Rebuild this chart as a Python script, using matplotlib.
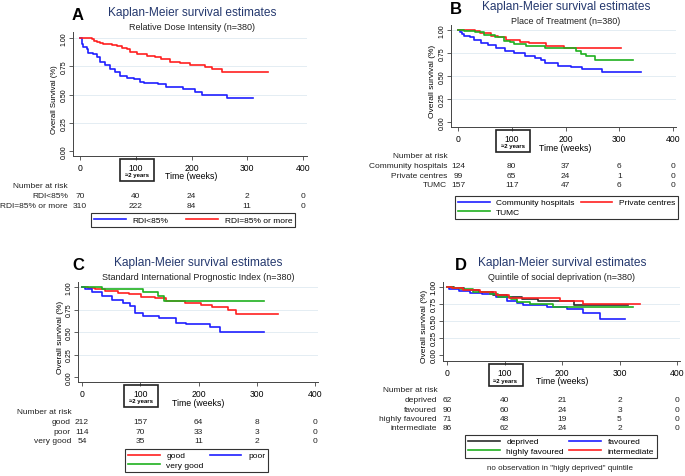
import matplotlib
matplotlib.use("Agg")
import matplotlib.pyplot as plt
from matplotlib.patches import Rectangle
from matplotlib.transforms import blended_transform_factory

plt.rcParams["font.family"] = ["Liberation Sans", "DejaVu Sans"]

W, H = 685, 477  # figure size in pixels

# ---------------- data ----------------
x_ticks = [0, 100, 200, 300, 400]
y_ticks = [0.0, 0.25, 0.5, 0.75, 1.0]
y_tick_labels = ["0.00", "0.25", "0.50", "0.75", "1.00"]

# A - Relative Dose Intensity
a_groups = ["RDI<85%", "RDI=85% or more"]
a_risk = [[70, 40, 24, 2, 0], [310, 222, 84, 11, 0]]
a_low_t = [0, 3, 6, 12, 15, 24, 30, 36, 45, 54, 63, 72, 84, 96, 108, 114, 140, 155, 185, 206, 218, 263, 311]
a_low_s = [1.0, 0.95, 0.92, 0.90, 0.87, 0.86, 0.83, 0.785, 0.76, 0.725, 0.70, 0.665, 0.65, 0.635, 0.615, 0.605, 0.59, 0.57, 0.545, 0.525, 0.50, 0.47, 0.47]
a_high_t = [0, 21, 25, 30, 36, 42, 57, 66, 75, 84, 90, 102, 120, 134, 146, 161, 179, 197, 224, 236, 254, 338]
a_high_s = [1.0, 0.99, 0.975, 0.965, 0.955, 0.947, 0.94, 0.93, 0.91, 0.90, 0.875, 0.86, 0.845, 0.83, 0.81, 0.785, 0.78, 0.765, 0.745, 0.725, 0.70, 0.70]

# B - Place of Treatment
b_groups = ["Community hospitals", "Private centres", "TUMC"]
b_risk = [[124, 80, 37, 6, 0], [99, 65, 24, 1, 0], [157, 117, 47, 6, 0]]
b_comm_t = [0, 3, 8, 12, 22, 30, 43, 56, 71, 87, 105, 124, 143, 155, 161, 186, 211, 230, 267, 340]
b_comm_s = [1.0, 0.975, 0.955, 0.94, 0.92, 0.895, 0.86, 0.84, 0.805, 0.775, 0.745, 0.72, 0.70, 0.675, 0.64, 0.61, 0.595, 0.575, 0.54, 0.54]
b_priv_t = [0, 31, 40, 62, 75, 90, 115, 133, 164, 198, 304]
b_priv_s = [1.0, 0.985, 0.965, 0.94, 0.92, 0.895, 0.865, 0.855, 0.83, 0.80, 0.80]
b_tumc_t = [0, 12, 31, 49, 68, 85, 96, 105, 127, 161, 220, 229, 239, 254, 326]
b_tumc_s = [1.0, 0.99, 0.975, 0.95, 0.92, 0.885, 0.865, 0.85, 0.83, 0.80, 0.775, 0.74, 0.72, 0.675, 0.675]

# C - Standard International Prognostic Index
c_groups = ["good", "poor", "very good"]
c_risk = [[212, 157, 64, 8, 0], [114, 70, 33, 3, 0], [54, 35, 11, 2, 0]]
c_good_t = [0, 11, 22, 40, 62, 80, 102, 125, 145, 177, 205, 223, 251, 265, 337]
c_good_s = [1.0, 0.99, 0.975, 0.955, 0.935, 0.92, 0.89, 0.875, 0.845, 0.82, 0.80, 0.78, 0.74, 0.70, 0.70]
c_poor_t = [0, 5, 17, 34, 51, 71, 82, 91, 105, 133, 162, 179, 219, 237, 313]
c_poor_s = [1.0, 0.975, 0.94, 0.90, 0.86, 0.825, 0.79, 0.715, 0.68, 0.655, 0.60, 0.585, 0.555, 0.50, 0.50]
c_vgood_t = [0, 34, 105, 131, 140, 313]
c_vgood_s = [1.0, 0.975, 0.94, 0.90, 0.85, 0.85]

# D - Quintile of social deprivation
d_groups = ["deprived", "favoured", "highly favoured", "intermediate"]
d_risk = [[62, 40, 21, 2, 0], [90, 60, 24, 3, 0], [71, 48, 19, 5, 0], [86, 62, 24, 2, 0]]
d_dep_t = [0, 12, 30, 55, 80, 105, 130, 159, 220, 315]
d_dep_s = [1.0, 0.98, 0.95, 0.92, 0.88, 0.85, 0.83, 0.79, 0.73, 0.73]
d_fav_t = [0, 3, 20, 40, 60, 85, 104, 121, 133, 174, 208, 237, 266, 310]
d_fav_s = [1.0, 0.97, 0.94, 0.91, 0.89, 0.85, 0.80, 0.77, 0.74, 0.705, 0.68, 0.62, 0.535, 0.535]
d_hfav_t = [0, 10, 23, 46, 75, 89, 112, 122, 145, 185, 323]
d_hfav_s = [1.0, 0.985, 0.965, 0.93, 0.89, 0.86, 0.82, 0.78, 0.755, 0.71, 0.71]
d_int_t = [0, 8, 28, 57, 86, 107, 196, 237, 336]
d_int_s = [1.0, 0.98, 0.95, 0.925, 0.88, 0.845, 0.80, 0.745, 0.745]

BLUE, RED, GREEN, BLACK = "#1f1fff", "#ff2020", "#1fb01f", "#2b2b2b"
NAVY = "#24386e"


def fx(px):
    return px / W


def fy(py):
    return 1 - py / H


fig = plt.figure(figsize=(W / 100, H / 100), dpi=100)


def panel(lay, letter, subtitle, ylabel, curves, groups, risk, legend_order, ytick_size=5):
    ppw = (lay["x400"] - lay["x0"]) / 400
    ppu = lay["y0"] - lay["y1"]
    left, right, top, bottom = lay["left"], lay["right"], lay["top"], lay["bottom"]
    ax = fig.add_axes([fx(left), fy(bottom), (right - left) / W, (bottom - top) / H])
    ax.set_xlim(-(lay["x0"] - left) / ppw, 400 + (right - lay["x400"]) / ppw)
    ax.set_ylim(-(bottom - lay["y0"]) / ppu, 1 + (lay["y1"] - top) / ppu)

    for y in y_ticks[1:]:
        ax.axhline(y, color="#dfeaf1", lw=0.6, zorder=0)

    handles = []
    for t, s, col, lab in curves:
        ln, = ax.step(t, s, where="post", color=col, lw=1.2, label=lab)
        handles.append(ln)

    for sp in ["top", "right"]:
        ax.spines[sp].set_visible(False)
    for sp in ["left", "bottom"]:
        ax.spines[sp].set_color("#444444")
        ax.spines[sp].set_linewidth(0.7)

    ax.set_xticks(x_ticks)
    ax.set_yticks(y_ticks)
    ax.set_yticklabels(y_tick_labels)
    ax.tick_params(axis="x", length=3, width=0.6, pad=2, labelsize=6.2, color="#444444")
    ax.tick_params(axis="y", length=3, width=0.6, pad=1, labelsize=ytick_size,
                   labelrotation=90, color="#444444")
    for lab in ax.get_yticklabels():
        lab.set_va("center")

    # titles and letter
    fig.text(fx(lay["tx"]), fy(lay["ty"]), "Kaplan-Meier survival estimates",
             ha="center", va="center", fontsize=8.6, color=NAVY)
    fig.text(fx(lay["tx"]), fy(lay["ty"] + 14), subtitle,
             ha="center", va="center", fontsize=6.5, color="#222222")
    fig.text(fx(lay["lx"]), fy(lay["ly"]), letter, ha="center", va="center",
             fontsize=12, fontweight="bold")
    fig.text(fx(lay["ylx"]), fy((lay["y0"] + lay["y1"]) / 2 + 4), ylabel, rotation=90,
             ha="center", va="center", fontsize=lay["ylsize"])

    bt = blended_transform_factory(ax.transData, fig.transFigure)
    ax.text(200, fy(lay["xly"]), "Time (weeks)", transform=bt, ha="center",
            va="center", fontsize=6.3)

    # "=2 years" box around the 100 tick
    bx0 = lay["x0"] + 100 * ppw - 16
    fig.patches.append(Rectangle((fx(bx0), fy(lay["bottom"] + 25)), 34 / W, 22 / H,
                                 transform=fig.transFigure, fill=False, lw=1.2,
                                 ec="#222222"))
    fig.text(fx(bx0 + 17), fy(lay["bottom"] + 19), "\u22482 years", ha="center",
             va="center", fontsize=4.3, fontweight="bold")

    # number at risk table
    fig.text(fx(lay["nx"]), fy(lay["ny"]), "Number at risk", ha="left", va="center",
             fontsize=6, color="#222222")
    for i, (g, row) in enumerate(zip(groups, risk)):
        yy = fy(lay["ny"] + 10 + i * 9.2)
        fig.text(fx(lay["gx"]), yy, g, ha="right", va="center", fontsize=6,
                 color="#222222")
        for xv, n in zip(x_ticks, row):
            ax.text(xv, yy, str(n), transform=bt, ha="center", va="center",
                    fontsize=6, color="#222222")

    # legend
    l0, t0, r0, b0 = lay["leg"]
    hs = [handles[k] for k in legend_order]
    labs = [curves[k][3] for k in legend_order]
    leg = ax.legend(hs, labs, loc="center", ncol=2, mode="expand",
                    bbox_to_anchor=(fx(l0), fy(b0), (r0 - l0) / W, (b0 - t0) / H),
                    bbox_transform=fig.transFigure, fontsize=6, frameon=True,
                    fancybox=False, edgecolor="#333333", framealpha=1,
                    handlelength=3.8, handletextpad=0.8, borderpad=0.35,
                    labelspacing=0.25, borderaxespad=0)
    leg.get_frame().set_linewidth(0.8)
    return ax


lay_a = dict(x0=80, x400=303, y1=39, y0=152, left=73, right=307, top=33, bottom=157,
             tx=192, ty=13, lx=78, ly=16, ylx=55, ylsize=5.6, xly=176.5,
             nx=13, ny=187, gx=68, leg=(91, 213, 295, 229))
lay_b = dict(x0=458, x400=673, y1=31, y0=123, left=451, right=676, top=26, bottom=128,
             tx=566, ty=7, lx=456, ly=9, ylx=433, ylsize=6, xly=148.5,
             nx=393, ny=157, gx=447, leg=(455, 196, 678, 221))
lay_c = dict(x0=82, x400=315, y1=288, y0=378, left=78, right=318, top=283, bottom=383,
             tx=198, ty=263, lx=78, ly=265, ylx=60, ylsize=6, xly=403.5,
             nx=17, ny=413, gx=71, leg=(125, 449, 268, 474))
lay_d = dict(x0=447, x400=677, y1=288, y0=356, left=443, right=680, top=283, bottom=362,
             tx=562, ty=263, lx=461, ly=266, ylx=424, ylsize=6, xly=381.5,
             nx=383, ny=391, gx=437, leg=(465, 435, 657, 460))

panel(lay_a, "A", "Relative Dose Intensity (n=380)", "Overall Survival (%)",
      [(a_low_t, a_low_s, BLUE, a_groups[0]), (a_high_t, a_high_s, RED, a_groups[1])],
      a_groups, a_risk, [0, 1])
panel(lay_b, "B", "Place of Treatment (n=380)", "Overall survival (%)",
      [(b_comm_t, b_comm_s, BLUE, b_groups[0]), (b_priv_t, b_priv_s, RED, b_groups[1]),
       (b_tumc_t, b_tumc_s, GREEN, b_groups[2])],
      b_groups, b_risk, [0, 2, 1])
panel(lay_c, "C", "Standard International Prognostic Index (n=380)", "Overall survival (%)",
      [(c_good_t, c_good_s, RED, c_groups[0]), (c_poor_t, c_poor_s, BLUE, c_groups[1]),
       (c_vgood_t, c_vgood_s, GREEN, c_groups[2])],
      c_groups, c_risk, [0, 2, 1])
panel(lay_d, "D", "Quintile of social deprivation (n=380)", "Overall survival (%)",
      [(d_dep_t, d_dep_s, BLACK, d_groups[0]), (d_fav_t, d_fav_s, BLUE, d_groups[1]),
       (d_hfav_t, d_hfav_s, GREEN, d_groups[2]), (d_int_t, d_int_s, RED, d_groups[3])],
      d_groups, d_risk, [0, 2, 1, 3], ytick_size=5.6)

fig.text(fx(560), fy(469), 'no observation in "higly deprived" quintile', ha="center",
         va="center", fontsize=5.8, color="#222222")

fig.savefig("out.png", dpi=100)
